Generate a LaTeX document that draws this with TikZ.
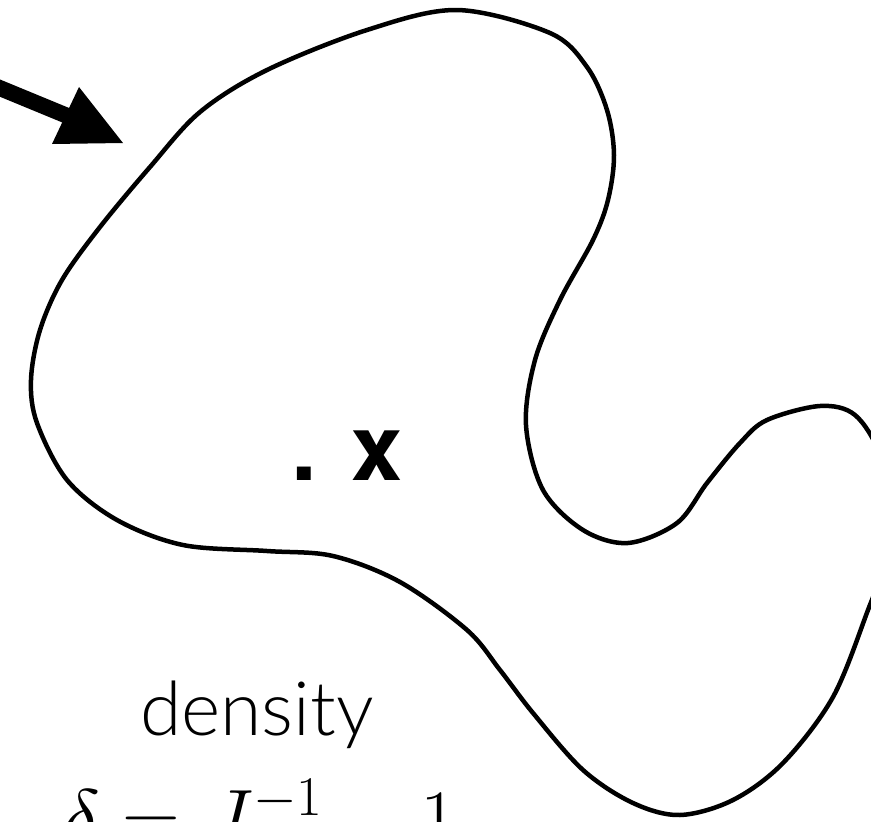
\RequirePackage{fix-cm}
\documentclass[tikz,border=0pt]{standalone}
\usepackage{fontspec}
\newfontfamily\lightfont{Lato Light}
\newfontfamily\heros{TeX Gyre Heros}
\begin{document}
\begin{tikzpicture}[x=1pt,y=-1pt,
  blob/.style={draw=black,line width=4.5pt,line join=round},
  arrowshaft/.style={draw=black,line width=16pt},
  arrowtip/.style={fill=black},
  lbl/.style={inner sep=0pt,anchor=base}]
\useasboundingbox (0,0) rectangle (871,822);
\clip (0,0) rectangle (871,822);
\fill[white] (0,0) rectangle (871,822);
% blob
\draw[blob] plot[smooth cycle,tension=0.55] coordinates {
 (31,380) (40,330) (62,280) (100,227) (150,167) (200,112) (267,70) (367,30) (457,10)
 (550,33) (587,67) (607,110) (614,155) (608,200) (593,240) (560,300)
 (535,360) (526,425) (543,490) (583,530) (628,543) (677,523) (707,483)
 (740,443) (767,420) (820,406) (855,415) (880,455) (890,515) (882,570)
 (868,610) (833,697) (783,763) (733,800) (680,815) (633,803) (583,770)
 (533,713) (500,670) (467,630) (400,582) (333,556) (267,551) (183,545)
 (117,520) (67,480) (37,423)};
% arrow
\coordinate (a0) at (-10,84);
\coordinate (a1) at (70,117);
\draw[arrowshaft] (a0) -- (a1);
\fill[arrowtip] (79,87) -- (52,144) -- (123,143) -- cycle;
% labels
\node[lbl] (pt) at (347,480) {\heros\bfseries\fontsize{92}{100}\selectfont . x};
\node[lbl] (dens) at (257,735) {\lightfont\fontsize{75}{90}\selectfont density};
\node[lbl] (form) at (260,845) {\fontsize{80}{96}\selectfont $\delta = J^{-1} - 1$};
\end{tikzpicture}
\end{document}
